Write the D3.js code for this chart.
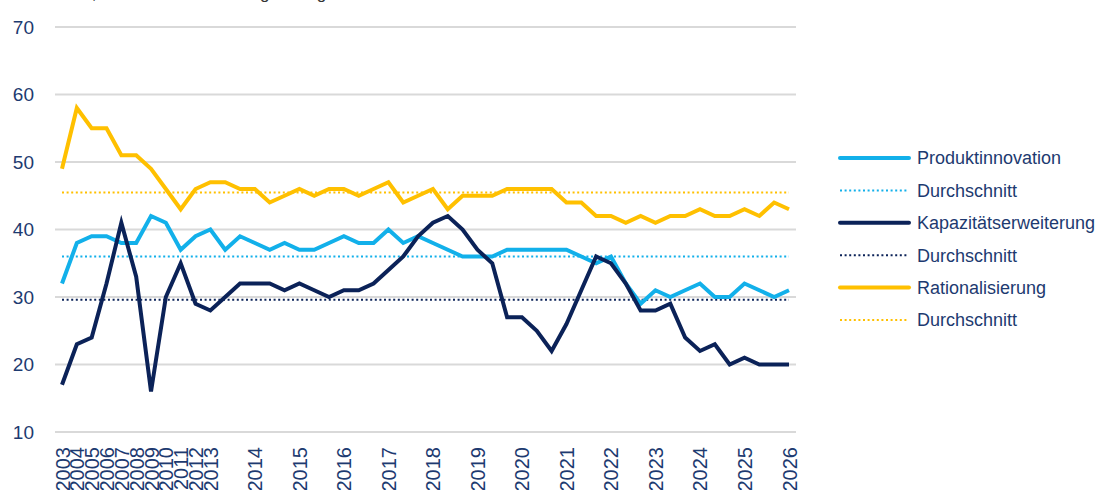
<!DOCTYPE html>
<html>
<head>
<meta charset="utf-8">
<script src="https://cdn.jsdelivr.net/npm/d3@7"></script>
<style>
  body { margin: 0; background: #fff; }
  text { font-family: "Liberation Sans", Arial, sans-serif; fill: #1d3a70; }
</style>
</head>
<body>
<div id="chart"></div>
<script>
// Data
var periods = ["2003","2004","2005","2006","2007","2008","2009","2010","2011","2012","2013",
  "", "", "2014", "", "", "2015", "", "", "2016", "", "", "2017", "", "", "2018",
  "", "", "2019", "", "", "2020", "", "", "2021", "", "", "2022", "", "", "2023",
  "", "", "2024", "", "", "2025", "", "", "2026"];

var produktinnovation = [32,38,39,39,38,38,42,41,37,39,40,37,39,38,37,38,37,37,38,39,
  38,38,40,38,39,38,37,36,36,36,37,37,37,37,37,36,35,36,32,29,31,30,31,32,30,30,32,31,30,31];

var kapazitaet = [17,23,24,32,41,33,16,30,35,29,28,30,32,32,32,31,32,31,30,31,
  31,32,34,36,39,41,42,40,37,35,27,27,25,22,26,31,36,35,32,28,28,29,24,22,23,20,21,20,20,20];

var rationalisierung = [49,58,55,55,51,51,49,46,43,46,47,47,46,46,44,45,46,45,46,46,
  45,46,47,44,45,46,43,45,45,45,46,46,46,46,44,44,42,42,41,42,41,42,42,43,42,42,43,42,44,43];

var averages = [36.0, 29.6, 45.5];
var yTicks = [10, 20, 30, 40, 50, 60, 70];

var seriesNames = ["Produktinnovation", "Kapazitätserweiterung", "Rationalisierung"];
var seriesColors = ["#12b0ea", "#0b2258", "#ffc000"];

var svgWidth = 1098;
var svgHeight = 490;

var svg = d3.select("#chart")
  .append("svg")
  .attr("width", svgWidth)
  .attr("height", svgHeight);

var xScale = d3.scalePoint()
  .domain(d3.range(periods.length))
  .range([62, 789]);

var yScale = d3.scaleLinear()
  .domain([10, 70])
  .range([432, 27]);

// subtitle, cut off by the top edge as in the original
var sub = svg.append("text")
  .attr("x", 2)
  .attr("y", -1)
  .style("font-size", "17px")
  .style("fill", "#333");
sub.append("tspan").text("Anteile in %,");
sub.append("tspan").attr("dx", 36).text("Mehrfachnennungen möglich");

// gridlines
svg.append("g")
  .selectAll("line")
  .data(yTicks)
  .enter()
  .append("line")
  .attr("x1", 55)
  .attr("x2", 796)
  .attr("y1", d => yScale(d))
  .attr("y2", d => yScale(d))
  .attr("stroke", "#d9d9d9")
  .attr("stroke-width", 2);

// y axis
var leftAxis = d3.axisLeft(yScale).tickValues(yTicks).tickSize(0).tickPadding(0);
var yAxisG = svg.append("g")
  .attr("transform", "translate(34,0)")
  .call(leftAxis);
yAxisG.select(".domain").remove();
yAxisG.selectAll("text")
  .style("font-size", "19px")
  .style("font-family", "Liberation Sans, Arial, sans-serif")
  .attr("fill", "#1d3a70");

// x axis
var bottomAxis = d3.axisBottom(xScale).tickSize(0).tickFormat(i => periods[i]);
var xAxisG = svg.append("g")
  .attr("transform", "translate(0,447)")
  .call(bottomAxis);
xAxisG.select(".domain").remove();
xAxisG.selectAll("text")
  .style("font-size", "20px")
  .style("font-family", "Liberation Sans, Arial, sans-serif")
  .attr("fill", "#1d3a70")
  .attr("text-anchor", "end")
  .attr("transform", "rotate(-90)")
  .attr("x", 0)
  .attr("y", 0)
  .attr("dy", "0.35em");

// average lines
var allSeries = [produktinnovation, kapazitaet, rationalisierung];
svg.append("g")
  .selectAll("line")
  .data(averages)
  .enter()
  .append("line")
  .attr("x1", xScale(0))
  .attr("x2", xScale(periods.length - 1))
  .attr("y1", d => yScale(d))
  .attr("y2", d => yScale(d))
  .attr("stroke", (d, i) => seriesColors[i])
  .attr("stroke-width", 2)
  .attr("stroke-dasharray", "2,2.6");

// series lines
var line = d3.line()
  .x((d, i) => xScale(i))
  .y(d => yScale(d));

svg.append("g")
  .selectAll("path")
  .data(allSeries)
  .enter()
  .append("path")
  .attr("d", d => line(d))
  .attr("fill", "none")
  .attr("stroke", (d, i) => seriesColors[i])
  .attr("stroke-width", 4)
  .attr("stroke-linejoin", "miter");

// legend
var legendItems = [];
seriesNames.forEach(function(name, i) {
  legendItems.push({ label: name, color: seriesColors[i], dotted: false });
  legendItems.push({ label: "Durchschnitt", color: seriesColors[i], dotted: true });
});

var legend = svg.append("g")
  .selectAll("g")
  .data(legendItems)
  .enter()
  .append("g")
  .attr("transform", (d, i) => `translate(840, ${158 + i * 32.4})`);

legend.append("line")
  .attr("x1", 0)
  .attr("x2", 69)
  .attr("stroke", d => d.color)
  .attr("stroke-width", d => d.dotted ? 2 : 4)
  .attr("stroke-linecap", d => d.dotted ? "butt" : "round")
  .attr("stroke-dasharray", d => d.dotted ? "2,2.6" : null);

legend.append("text")
  .attr("x", 77)
  .attr("dy", "0.35em")
  .style("font-size", "18px")
  .text(d => d.label);
</script>
</body>
</html>
